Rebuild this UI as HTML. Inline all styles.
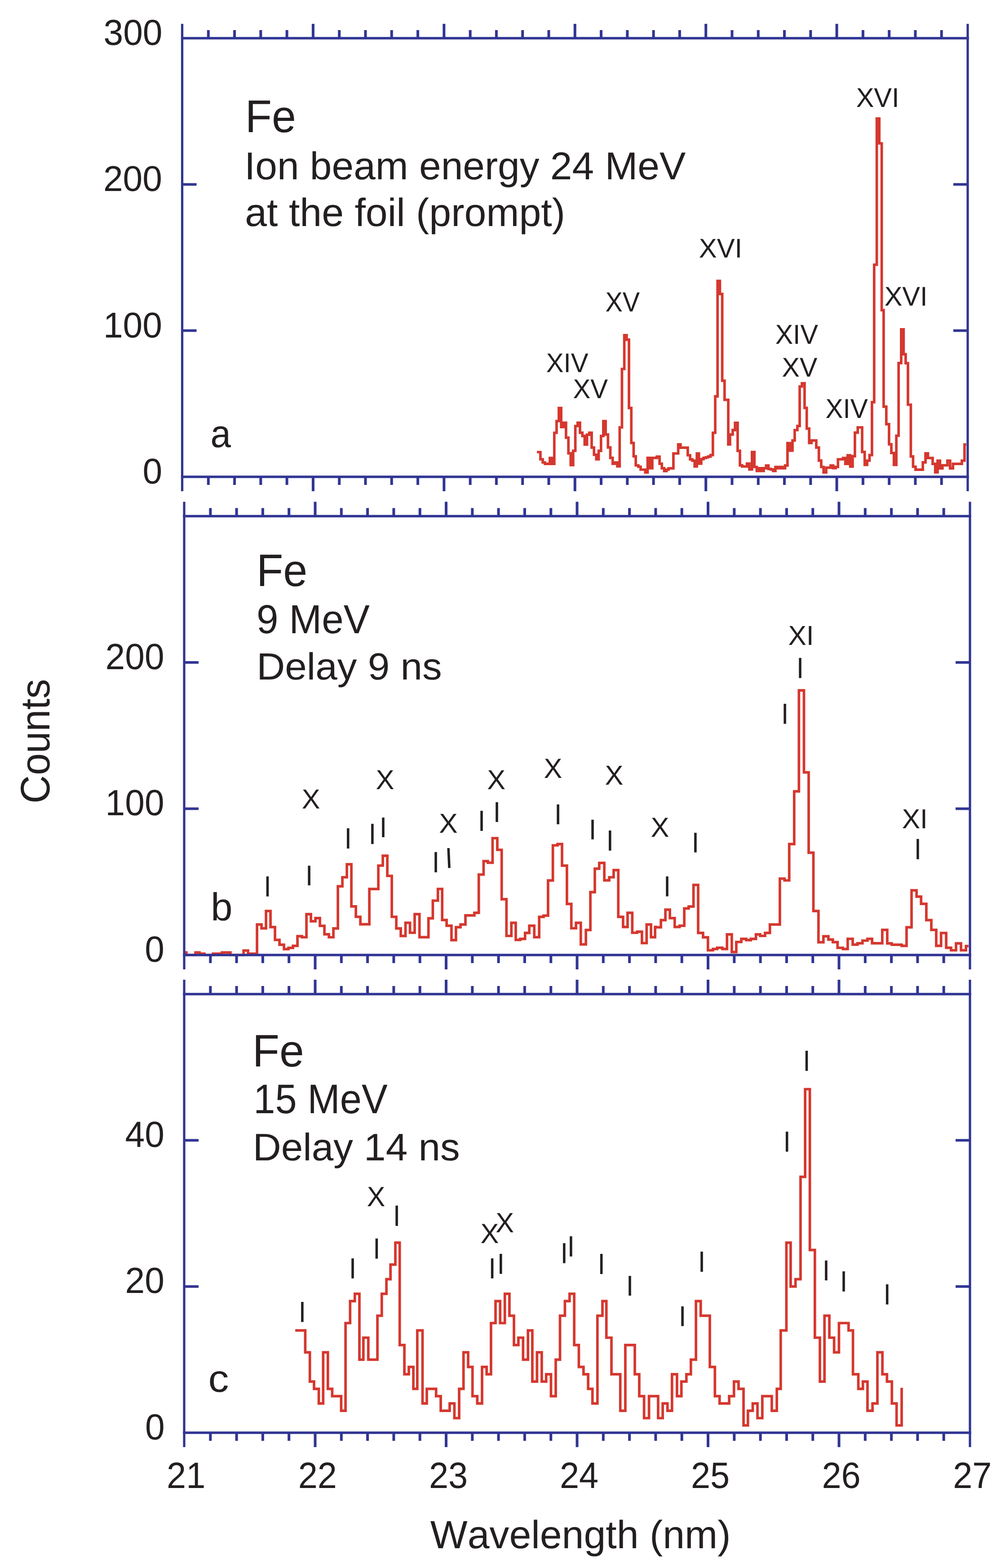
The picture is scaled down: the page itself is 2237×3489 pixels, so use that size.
<!DOCTYPE html>
<html><head><meta charset="utf-8"><title>Fe spectra</title>
<style>html,body{margin:0;padding:0;background:#fff;}svg{display:block;}
text{font-family:"Liberation Sans",Arial,Helvetica,sans-serif;fill:#231f20;font-kerning:none;text-rendering:geometricPrecision;}</style></head>
<body><svg width="2237" height="3489" viewBox="0 0 2237 3489"><g stroke="#d5372e" stroke-width="5.7" fill="none" stroke-linejoin="miter" stroke-linecap="butt">
<path d="M1195.1 1006.0H1202.9V1022.0H1208.0V1029.0H1213.0V1032.1H1218.1V1032.1H1223.9V1019.0H1229.0V1032.1H1233.8V963.0H1238.9V937.0H1243.9V907.8H1249.1V950.1H1254.4V940.7H1259.9V973.9H1265.2V1008.7H1270.3V1035.0H1275.8V1003.1H1280.6V948.0H1285.8V940.7H1291.0V962.8H1296.3V970.1H1301.4V989.2H1306.6V967.1H1311.8V962.8H1317.0V995.9H1322.2V1011.9H1327.3V1021.9H1332.6V1003.1H1337.8V970.2H1342.9V937.2H1348.1V966.9H1353.3V995.7H1358.5V1018.8H1363.7V1031.9H1368.9V1029.1H1374.1V1037.7H1379.3V951.0H1384.4V821.0H1389.6V745.9H1394.8V755.9H1400.0V907.8H1405.2V985.7H1410.4V1015.4H1415.1V1035.5H1420.8V1038.5H1426.0V1045.0H1436.2V1051.2H1441.5V1018.9H1446.7V1041.9H1451.9V1018.9H1462.1V1016.1H1468.1V1031.9H1473.2V1041.9H1478.4V1048.1H1483.5V1045.0H1488.1V1042.1H1498.9V1009.0H1509.6V988.9H1514.8V996.2H1530.9V1013.0H1536.1V1022.1H1541.1V1025.1H1546.2V1037.9H1551.1V1009.0H1555.7V1031.6H1560.9V1021.7H1566.0V1018.8H1571.2V1017.5H1576.4V1015.8H1581.6V1012.6H1586.8V963.0H1592.0V881.8H1597.2V625.0H1602.4V654.2H1607.6V847.2H1612.8V889.6H1621.0V988.8H1624.9V966.8H1630.9V956.9H1636.1V940.8H1641.9V1003.1H1647.0V1035.4H1651.9V1038.0H1662.6V1031.7H1668.0V1044.7H1673.8V1005.8H1679.2V1039.0H1684.5V1047.8H1689.6V1041.8H1694.8V1047.8H1700.0V1041.8H1705.2V1035.9H1710.4V1043.4H1715.6V1044.7H1720.8V1047.8H1726.0V1039.0H1731.2V1041.8H1736.4V1039.0H1741.6V1041.8H1747.5V1035.9H1752.8V986.1H1758.5V1002.7H1764.0V980.1H1768.9V957.0H1774.9V947.9H1780.0V860.0H1785.0V852.9H1790.9V907.7H1795.7V953.6H1801.1V985.6H1806.3V980.1H1816.9V995.9H1822.7V1024.8H1827.9V1039.0H1833.1V1051.1H1839.0V1040.6H1848.9V1035.9H1854.6V1041.7H1860.1V1039.0H1865.2V1022.0H1876.4V1019.1H1881.6V1032.1H1886.8V1013.1H1892.5V1038.1H1897.9V1015.2H1902.9V962.7H1909.2V951.0H1919.0V1005.7H1924.7V1034.5H1930.1V1025.0H1935.5V1012.6H1940.9V894.8H1945.8V589.0H1951.6V263.8H1957.2V319.0H1962.6V690.1H1966.9V904.8H1972.8V943.8H1978.9V988.7H1984.0V1008.0H1989.7V1034.5H1995.1V969.5H2000.2V807.8H2005.9V732.8H2011.3V788.1H2015.9V808.1H2021.0V900.5H2027.4V1015.7H2032.4V1038.5H2037.9V1045.1H2054.1V1028.8H2060.0V1008.8H2065.5V1019.1H2076.0V1032.1H2081.7V1051.0H2087.0V1025.0H2092.3V1042.1H2097.8V1035.4H2108.9V1025.0H2114.8V1042.1H2121.2V1032.1H2141.0V1025.0H2146.9V989.0H2150.7"/>
<path d="M410.0 2119.3H415.0V2125.0H435.0V2119.3H444.0V2122.1H455.0V2125.0H474.0V2122.1H494.0V2119.3H513.0V2125.0H542.1V2115.0H552.1V2122.1H572.1V2057.1H582.1V2065.7H592.1V2027.1H602.1V2062.9H612.1V2091.4H622.1V2102.1H632.1V2111.9H642.1V2109.1H652.1V2104.6H662.1V2083.1H672.1V2085.5H682.1V2034.1H692.1V2049.8H702.1V2042.8H712.1V2060.1H722.1V2078.9H732.1V2085.5H742.1V2065.8H752.1V1972.2H762.1V1952.0H772.1V1923.2H782.1V2016.8H792.1V2040.0H802.1V2056.7H812.1V2056.7H822.1V1978.2H832.1V1978.2H842.1V1926.0H852.1V1904.2H862.1V1949.0H872.1V2040.0H882.1V2065.8H892.1V2082.7H902.6V2053.3H912.6V2075.5H923.0V2034.1H933.7V2085.3H953.7V2043.3H963.4V2004.0H974.7V1978.0H984.2V2047.1H994.1V2059.9H1004.9V2091.9H1014.9V2063.1H1025.0V2057.1H1036.0V2036.9H1055.9V2031.1H1065.7V1946.0H1076.4V1916.2H1085.9V1919.6H1096.4V1865.0H1106.9V1891.0H1116.7V2000.9H1127.3V2082.5H1138.2V2053.3H1148.0V2091.3H1158.0V2089.1H1168.7V2075.9H1178.1V2059.9H1189.2V2085.3H1200.1V2040.1H1209.9V2037.3H1219.9V1959.1H1230.6V1881.0H1241.0V1878.2H1251.0V1926.2H1261.9V2011.3H1271.7V2065.5H1282.1V2053.3H1292.8V2101.3H1304.1V2069.3H1314.1V1985.1H1324.0V1932.8H1333.8V1920.2H1345.1V1958.8H1356.1V1952.0H1365.9V1936.2H1376.2V2040.1H1386.9V2062.7H1396.9V2031.1H1407.3V2075.5H1418.2V2073.1H1428.9V2098.5H1439.3V2057.1H1449.1V2085.3H1458.1V2062.7H1459.8V2063.3H1471.1V2047.3H1481.1V2024.1H1491.1V2042.9H1501.8V2062.7H1512.5V2059.9H1523.1V2021.3H1532.9V2017.1H1543.6V1969.1H1554.0V2075.9H1564.9V2085.7H1575.8V2114.5H1586.9V2111.7H1596.3V2108.9H1607.8V2111.7H1618.2V2079.1H1628.9V2118.3H1638.9V2096.0H1650.0V2089.1H1661.0V2091.9H1671.3V2089.1H1682.6V2079.1H1692.0V2082.5H1702.9V2075.9H1713.7V2057.1H1735.9V1955.0H1746.2V1959.0H1756.7V1878.1H1767.8V1760.8H1778.3V1536.2H1789.5V1718.6H1800.0V1897.3H1810.5V2027.1H1821.8V2096.7H1832.8V2083.3H1843.9V2090.7H1853.8V2096.4H1864.3V2109.0H1876.1V2111.7H1886.9V2089.0H1898.0V2101.9H1908.7V2098.8H1919.8V2093.0H1930.9V2089.0H1941.1V2098.8H1963.8V2069.2H1974.9V2099.1H1984.9V2102.1H2007.1V2104.7H2017.9V2063.4H2029.0V1981.1H2040.1V1995.1H2050.2V2011.2H2061.9V2047.3H2073.0V2069.2H2083.9V2104.7H2094.7V2076.0H2106.1V2108.8H2116.9V2114.5H2128.0V2099.1H2139.1V2114.5H2150.2V2105.1H2155.7"/>
<path d="M657.2 2960.3H679.4V3009.1H689.7V3074.1H699.0V3090.4H709.6V3122.9H719.3V3009.1H729.8V3090.4H739.4V3106.7H759.4V3139.2H769.1V2944.0H779.3V2895.2H789.8V2878.9H800.0V3025.3H808.8V2976.5H819.8V3025.3H840.1V2927.7H849.8V2878.9H860.1V2846.4H869.2V2813.9H880.0V2765.1H889.7V2992.8H900.1V3057.9H910.0V3041.6H920.1V3090.4H928.8V2960.3H940.5V3122.9H950.0V3090.4H970.7V3106.7H981.0V3139.2H1000.9V3122.9H1011.4V3155.5H1022.0V3090.4H1031.7V3009.1H1042.0V3041.6H1051.7V3106.7H1062.3V3122.9H1073.0V3041.6H1083.2V3057.9H1092.9V2944.0H1103.0V2895.2H1113.2V2944.0H1123.7V2878.9H1133.9V2927.7H1144.0V2992.8H1153.9V2976.5H1164.3V3025.3H1175.2V2960.3H1184.9V3074.1H1195.3V3009.1H1205.9V3074.1H1215.7V3057.9H1226.4V3106.7H1237.0V3025.3H1246.5V2927.7H1257.4V2895.2H1267.8V2878.9H1278.1V2992.8H1288.4V3041.6H1298.8V3057.9H1309.1V3090.4H1318.7V3122.9H1329.8V2927.7H1341.0V2895.2H1349.7V2976.5H1361.0V3057.9H1380.7V3139.2H1391.9V2992.8H1413.0V3057.9H1422.9V3106.7H1433.6V3155.5H1444.6V3106.7H1464.9V3155.5H1475.1V3122.9H1485.7V3139.2H1495.8V3057.9H1506.9V3106.7H1516.7V3074.1H1527.8V3057.9H1537.8V3025.3H1549.1V2895.2H1559.7V2927.7H1580.0V3041.6H1591.3V3106.7H1601.7V3122.9H1623.0V3106.7H1633.7V3074.1H1643.9V3090.4H1655.0V3171.7H1664.8V3139.2H1675.5V3122.9H1686.0V3155.5H1696.8V3106.7H1717.9V3139.2H1729.1V3090.4H1737.8V2960.3H1750.4V2765.1H1759.9V2862.7H1770.7V2846.4H1781.9V2618.7H1792.1V2423.5H1802.6V2781.3H1813.8V2976.5H1825.0V3074.1H1835.2V2927.7H1846.0V2976.5H1856.6V3009.1H1867.4V2944.0H1888.8V2960.3H1898.6V3057.9H1910.5V3090.4H1920.7V3074.1H1930.9V3139.2H1942.1V3122.9H1953.0V3009.1H1964.1V3057.9H1974.3V3074.1H1985.2V3122.9H1995.7V3171.7H2007.0V3088.0H2007.0"/>
</g>
<g stroke="#313593" fill="none" stroke-linecap="butt">
<line x1="405.50" y1="53.00" x2="405.50" y2="1093.00" stroke-width="5.2"/>
<line x1="2154.00" y1="53.00" x2="2154.00" y2="1093.00" stroke-width="5.2"/>
<line x1="402.90" y1="85.00" x2="2156.60" y2="85.00" stroke-width="5.7"/>
<line x1="402.90" y1="1061.00" x2="2156.60" y2="1061.00" stroke-width="5.7"/>
<line x1="463.78" y1="85.00" x2="463.78" y2="67.00" stroke-width="6.0"/>
<line x1="463.78" y1="1061.00" x2="463.78" y2="1079.00" stroke-width="6.0"/>
<line x1="522.07" y1="85.00" x2="522.07" y2="67.00" stroke-width="6.0"/>
<line x1="522.07" y1="1061.00" x2="522.07" y2="1079.00" stroke-width="6.0"/>
<line x1="580.35" y1="85.00" x2="580.35" y2="67.00" stroke-width="6.0"/>
<line x1="580.35" y1="1061.00" x2="580.35" y2="1079.00" stroke-width="6.0"/>
<line x1="638.63" y1="85.00" x2="638.63" y2="67.00" stroke-width="6.0"/>
<line x1="638.63" y1="1061.00" x2="638.63" y2="1079.00" stroke-width="6.0"/>
<line x1="696.92" y1="85.00" x2="696.92" y2="53.00" stroke-width="6.0"/>
<line x1="696.92" y1="1061.00" x2="696.92" y2="1093.00" stroke-width="6.0"/>
<line x1="755.20" y1="85.00" x2="755.20" y2="67.00" stroke-width="6.0"/>
<line x1="755.20" y1="1061.00" x2="755.20" y2="1079.00" stroke-width="6.0"/>
<line x1="813.48" y1="85.00" x2="813.48" y2="67.00" stroke-width="6.0"/>
<line x1="813.48" y1="1061.00" x2="813.48" y2="1079.00" stroke-width="6.0"/>
<line x1="871.77" y1="85.00" x2="871.77" y2="67.00" stroke-width="6.0"/>
<line x1="871.77" y1="1061.00" x2="871.77" y2="1079.00" stroke-width="6.0"/>
<line x1="930.05" y1="85.00" x2="930.05" y2="67.00" stroke-width="6.0"/>
<line x1="930.05" y1="1061.00" x2="930.05" y2="1079.00" stroke-width="6.0"/>
<line x1="988.33" y1="85.00" x2="988.33" y2="53.00" stroke-width="6.0"/>
<line x1="988.33" y1="1061.00" x2="988.33" y2="1093.00" stroke-width="6.0"/>
<line x1="1046.62" y1="85.00" x2="1046.62" y2="67.00" stroke-width="6.0"/>
<line x1="1046.62" y1="1061.00" x2="1046.62" y2="1079.00" stroke-width="6.0"/>
<line x1="1104.90" y1="85.00" x2="1104.90" y2="67.00" stroke-width="6.0"/>
<line x1="1104.90" y1="1061.00" x2="1104.90" y2="1079.00" stroke-width="6.0"/>
<line x1="1163.18" y1="85.00" x2="1163.18" y2="67.00" stroke-width="6.0"/>
<line x1="1163.18" y1="1061.00" x2="1163.18" y2="1079.00" stroke-width="6.0"/>
<line x1="1221.47" y1="85.00" x2="1221.47" y2="67.00" stroke-width="6.0"/>
<line x1="1221.47" y1="1061.00" x2="1221.47" y2="1079.00" stroke-width="6.0"/>
<line x1="1279.75" y1="85.00" x2="1279.75" y2="53.00" stroke-width="6.0"/>
<line x1="1279.75" y1="1061.00" x2="1279.75" y2="1093.00" stroke-width="6.0"/>
<line x1="1338.03" y1="85.00" x2="1338.03" y2="67.00" stroke-width="6.0"/>
<line x1="1338.03" y1="1061.00" x2="1338.03" y2="1079.00" stroke-width="6.0"/>
<line x1="1396.32" y1="85.00" x2="1396.32" y2="67.00" stroke-width="6.0"/>
<line x1="1396.32" y1="1061.00" x2="1396.32" y2="1079.00" stroke-width="6.0"/>
<line x1="1454.60" y1="85.00" x2="1454.60" y2="67.00" stroke-width="6.0"/>
<line x1="1454.60" y1="1061.00" x2="1454.60" y2="1079.00" stroke-width="6.0"/>
<line x1="1512.88" y1="85.00" x2="1512.88" y2="67.00" stroke-width="6.0"/>
<line x1="1512.88" y1="1061.00" x2="1512.88" y2="1079.00" stroke-width="6.0"/>
<line x1="1571.17" y1="85.00" x2="1571.17" y2="53.00" stroke-width="6.0"/>
<line x1="1571.17" y1="1061.00" x2="1571.17" y2="1093.00" stroke-width="6.0"/>
<line x1="1629.45" y1="85.00" x2="1629.45" y2="67.00" stroke-width="6.0"/>
<line x1="1629.45" y1="1061.00" x2="1629.45" y2="1079.00" stroke-width="6.0"/>
<line x1="1687.73" y1="85.00" x2="1687.73" y2="67.00" stroke-width="6.0"/>
<line x1="1687.73" y1="1061.00" x2="1687.73" y2="1079.00" stroke-width="6.0"/>
<line x1="1746.02" y1="85.00" x2="1746.02" y2="67.00" stroke-width="6.0"/>
<line x1="1746.02" y1="1061.00" x2="1746.02" y2="1079.00" stroke-width="6.0"/>
<line x1="1804.30" y1="85.00" x2="1804.30" y2="67.00" stroke-width="6.0"/>
<line x1="1804.30" y1="1061.00" x2="1804.30" y2="1079.00" stroke-width="6.0"/>
<line x1="1862.58" y1="85.00" x2="1862.58" y2="53.00" stroke-width="6.0"/>
<line x1="1862.58" y1="1061.00" x2="1862.58" y2="1093.00" stroke-width="6.0"/>
<line x1="1920.87" y1="85.00" x2="1920.87" y2="67.00" stroke-width="6.0"/>
<line x1="1920.87" y1="1061.00" x2="1920.87" y2="1079.00" stroke-width="6.0"/>
<line x1="1979.15" y1="85.00" x2="1979.15" y2="67.00" stroke-width="6.0"/>
<line x1="1979.15" y1="1061.00" x2="1979.15" y2="1079.00" stroke-width="6.0"/>
<line x1="2037.43" y1="85.00" x2="2037.43" y2="67.00" stroke-width="6.0"/>
<line x1="2037.43" y1="1061.00" x2="2037.43" y2="1079.00" stroke-width="6.0"/>
<line x1="2095.72" y1="85.00" x2="2095.72" y2="67.00" stroke-width="6.0"/>
<line x1="2095.72" y1="1061.00" x2="2095.72" y2="1079.00" stroke-width="6.0"/>
<line x1="405.50" y1="735.67" x2="437.50" y2="735.67" stroke-width="5.8"/>
<line x1="2154.00" y1="735.67" x2="2122.00" y2="735.67" stroke-width="5.8"/>
<line x1="405.50" y1="410.33" x2="437.50" y2="410.33" stroke-width="5.8"/>
<line x1="2154.00" y1="410.33" x2="2122.00" y2="410.33" stroke-width="5.8"/>
<line x1="410.00" y1="1116.50" x2="410.00" y2="2157.00" stroke-width="5.2"/>
<line x1="2159.00" y1="1116.50" x2="2159.00" y2="2157.00" stroke-width="5.2"/>
<line x1="407.40" y1="1148.50" x2="2161.60" y2="1148.50" stroke-width="5.7"/>
<line x1="407.40" y1="2125.00" x2="2161.60" y2="2125.00" stroke-width="5.7"/>
<line x1="468.30" y1="1148.50" x2="468.30" y2="1130.50" stroke-width="6.0"/>
<line x1="468.30" y1="2125.00" x2="468.30" y2="2143.00" stroke-width="6.0"/>
<line x1="526.60" y1="1148.50" x2="526.60" y2="1130.50" stroke-width="6.0"/>
<line x1="526.60" y1="2125.00" x2="526.60" y2="2143.00" stroke-width="6.0"/>
<line x1="584.90" y1="1148.50" x2="584.90" y2="1130.50" stroke-width="6.0"/>
<line x1="584.90" y1="2125.00" x2="584.90" y2="2143.00" stroke-width="6.0"/>
<line x1="643.20" y1="1148.50" x2="643.20" y2="1130.50" stroke-width="6.0"/>
<line x1="643.20" y1="2125.00" x2="643.20" y2="2143.00" stroke-width="6.0"/>
<line x1="701.50" y1="1148.50" x2="701.50" y2="1116.50" stroke-width="6.0"/>
<line x1="701.50" y1="2125.00" x2="701.50" y2="2157.00" stroke-width="6.0"/>
<line x1="759.80" y1="1148.50" x2="759.80" y2="1130.50" stroke-width="6.0"/>
<line x1="759.80" y1="2125.00" x2="759.80" y2="2143.00" stroke-width="6.0"/>
<line x1="818.10" y1="1148.50" x2="818.10" y2="1130.50" stroke-width="6.0"/>
<line x1="818.10" y1="2125.00" x2="818.10" y2="2143.00" stroke-width="6.0"/>
<line x1="876.40" y1="1148.50" x2="876.40" y2="1130.50" stroke-width="6.0"/>
<line x1="876.40" y1="2125.00" x2="876.40" y2="2143.00" stroke-width="6.0"/>
<line x1="934.70" y1="1148.50" x2="934.70" y2="1130.50" stroke-width="6.0"/>
<line x1="934.70" y1="2125.00" x2="934.70" y2="2143.00" stroke-width="6.0"/>
<line x1="993.00" y1="1148.50" x2="993.00" y2="1116.50" stroke-width="6.0"/>
<line x1="993.00" y1="2125.00" x2="993.00" y2="2157.00" stroke-width="6.0"/>
<line x1="1051.30" y1="1148.50" x2="1051.30" y2="1130.50" stroke-width="6.0"/>
<line x1="1051.30" y1="2125.00" x2="1051.30" y2="2143.00" stroke-width="6.0"/>
<line x1="1109.60" y1="1148.50" x2="1109.60" y2="1130.50" stroke-width="6.0"/>
<line x1="1109.60" y1="2125.00" x2="1109.60" y2="2143.00" stroke-width="6.0"/>
<line x1="1167.90" y1="1148.50" x2="1167.90" y2="1130.50" stroke-width="6.0"/>
<line x1="1167.90" y1="2125.00" x2="1167.90" y2="2143.00" stroke-width="6.0"/>
<line x1="1226.20" y1="1148.50" x2="1226.20" y2="1130.50" stroke-width="6.0"/>
<line x1="1226.20" y1="2125.00" x2="1226.20" y2="2143.00" stroke-width="6.0"/>
<line x1="1284.50" y1="1148.50" x2="1284.50" y2="1116.50" stroke-width="6.0"/>
<line x1="1284.50" y1="2125.00" x2="1284.50" y2="2157.00" stroke-width="6.0"/>
<line x1="1342.80" y1="1148.50" x2="1342.80" y2="1130.50" stroke-width="6.0"/>
<line x1="1342.80" y1="2125.00" x2="1342.80" y2="2143.00" stroke-width="6.0"/>
<line x1="1401.10" y1="1148.50" x2="1401.10" y2="1130.50" stroke-width="6.0"/>
<line x1="1401.10" y1="2125.00" x2="1401.10" y2="2143.00" stroke-width="6.0"/>
<line x1="1459.40" y1="1148.50" x2="1459.40" y2="1130.50" stroke-width="6.0"/>
<line x1="1459.40" y1="2125.00" x2="1459.40" y2="2143.00" stroke-width="6.0"/>
<line x1="1517.70" y1="1148.50" x2="1517.70" y2="1130.50" stroke-width="6.0"/>
<line x1="1517.70" y1="2125.00" x2="1517.70" y2="2143.00" stroke-width="6.0"/>
<line x1="1576.00" y1="1148.50" x2="1576.00" y2="1116.50" stroke-width="6.0"/>
<line x1="1576.00" y1="2125.00" x2="1576.00" y2="2157.00" stroke-width="6.0"/>
<line x1="1634.30" y1="1148.50" x2="1634.30" y2="1130.50" stroke-width="6.0"/>
<line x1="1634.30" y1="2125.00" x2="1634.30" y2="2143.00" stroke-width="6.0"/>
<line x1="1692.60" y1="1148.50" x2="1692.60" y2="1130.50" stroke-width="6.0"/>
<line x1="1692.60" y1="2125.00" x2="1692.60" y2="2143.00" stroke-width="6.0"/>
<line x1="1750.90" y1="1148.50" x2="1750.90" y2="1130.50" stroke-width="6.0"/>
<line x1="1750.90" y1="2125.00" x2="1750.90" y2="2143.00" stroke-width="6.0"/>
<line x1="1809.20" y1="1148.50" x2="1809.20" y2="1130.50" stroke-width="6.0"/>
<line x1="1809.20" y1="2125.00" x2="1809.20" y2="2143.00" stroke-width="6.0"/>
<line x1="1867.50" y1="1148.50" x2="1867.50" y2="1116.50" stroke-width="6.0"/>
<line x1="1867.50" y1="2125.00" x2="1867.50" y2="2157.00" stroke-width="6.0"/>
<line x1="1925.80" y1="1148.50" x2="1925.80" y2="1130.50" stroke-width="6.0"/>
<line x1="1925.80" y1="2125.00" x2="1925.80" y2="2143.00" stroke-width="6.0"/>
<line x1="1984.10" y1="1148.50" x2="1984.10" y2="1130.50" stroke-width="6.0"/>
<line x1="1984.10" y1="2125.00" x2="1984.10" y2="2143.00" stroke-width="6.0"/>
<line x1="2042.40" y1="1148.50" x2="2042.40" y2="1130.50" stroke-width="6.0"/>
<line x1="2042.40" y1="2125.00" x2="2042.40" y2="2143.00" stroke-width="6.0"/>
<line x1="2100.70" y1="1148.50" x2="2100.70" y2="1130.50" stroke-width="6.0"/>
<line x1="2100.70" y1="2125.00" x2="2100.70" y2="2143.00" stroke-width="6.0"/>
<line x1="410.00" y1="1799.50" x2="442.00" y2="1799.50" stroke-width="5.8"/>
<line x1="2159.00" y1="1799.50" x2="2127.00" y2="1799.50" stroke-width="5.8"/>
<line x1="410.00" y1="1474.00" x2="442.00" y2="1474.00" stroke-width="5.8"/>
<line x1="2159.00" y1="1474.00" x2="2127.00" y2="1474.00" stroke-width="5.8"/>
<line x1="410.00" y1="2180.00" x2="410.00" y2="3220.00" stroke-width="5.2"/>
<line x1="2159.00" y1="2180.00" x2="2159.00" y2="3220.00" stroke-width="5.2"/>
<line x1="407.40" y1="2212.00" x2="2161.60" y2="2212.00" stroke-width="5.7"/>
<line x1="407.40" y1="3188.00" x2="2161.60" y2="3188.00" stroke-width="5.7"/>
<line x1="468.30" y1="2212.00" x2="468.30" y2="2194.00" stroke-width="6.0"/>
<line x1="468.30" y1="3188.00" x2="468.30" y2="3206.00" stroke-width="6.0"/>
<line x1="526.60" y1="2212.00" x2="526.60" y2="2194.00" stroke-width="6.0"/>
<line x1="526.60" y1="3188.00" x2="526.60" y2="3206.00" stroke-width="6.0"/>
<line x1="584.90" y1="2212.00" x2="584.90" y2="2194.00" stroke-width="6.0"/>
<line x1="584.90" y1="3188.00" x2="584.90" y2="3206.00" stroke-width="6.0"/>
<line x1="643.20" y1="2212.00" x2="643.20" y2="2194.00" stroke-width="6.0"/>
<line x1="643.20" y1="3188.00" x2="643.20" y2="3206.00" stroke-width="6.0"/>
<line x1="701.50" y1="2212.00" x2="701.50" y2="2180.00" stroke-width="6.0"/>
<line x1="701.50" y1="3188.00" x2="701.50" y2="3220.00" stroke-width="6.0"/>
<line x1="759.80" y1="2212.00" x2="759.80" y2="2194.00" stroke-width="6.0"/>
<line x1="759.80" y1="3188.00" x2="759.80" y2="3206.00" stroke-width="6.0"/>
<line x1="818.10" y1="2212.00" x2="818.10" y2="2194.00" stroke-width="6.0"/>
<line x1="818.10" y1="3188.00" x2="818.10" y2="3206.00" stroke-width="6.0"/>
<line x1="876.40" y1="2212.00" x2="876.40" y2="2194.00" stroke-width="6.0"/>
<line x1="876.40" y1="3188.00" x2="876.40" y2="3206.00" stroke-width="6.0"/>
<line x1="934.70" y1="2212.00" x2="934.70" y2="2194.00" stroke-width="6.0"/>
<line x1="934.70" y1="3188.00" x2="934.70" y2="3206.00" stroke-width="6.0"/>
<line x1="993.00" y1="2212.00" x2="993.00" y2="2180.00" stroke-width="6.0"/>
<line x1="993.00" y1="3188.00" x2="993.00" y2="3220.00" stroke-width="6.0"/>
<line x1="1051.30" y1="2212.00" x2="1051.30" y2="2194.00" stroke-width="6.0"/>
<line x1="1051.30" y1="3188.00" x2="1051.30" y2="3206.00" stroke-width="6.0"/>
<line x1="1109.60" y1="2212.00" x2="1109.60" y2="2194.00" stroke-width="6.0"/>
<line x1="1109.60" y1="3188.00" x2="1109.60" y2="3206.00" stroke-width="6.0"/>
<line x1="1167.90" y1="2212.00" x2="1167.90" y2="2194.00" stroke-width="6.0"/>
<line x1="1167.90" y1="3188.00" x2="1167.90" y2="3206.00" stroke-width="6.0"/>
<line x1="1226.20" y1="2212.00" x2="1226.20" y2="2194.00" stroke-width="6.0"/>
<line x1="1226.20" y1="3188.00" x2="1226.20" y2="3206.00" stroke-width="6.0"/>
<line x1="1284.50" y1="2212.00" x2="1284.50" y2="2180.00" stroke-width="6.0"/>
<line x1="1284.50" y1="3188.00" x2="1284.50" y2="3220.00" stroke-width="6.0"/>
<line x1="1342.80" y1="2212.00" x2="1342.80" y2="2194.00" stroke-width="6.0"/>
<line x1="1342.80" y1="3188.00" x2="1342.80" y2="3206.00" stroke-width="6.0"/>
<line x1="1401.10" y1="2212.00" x2="1401.10" y2="2194.00" stroke-width="6.0"/>
<line x1="1401.10" y1="3188.00" x2="1401.10" y2="3206.00" stroke-width="6.0"/>
<line x1="1459.40" y1="2212.00" x2="1459.40" y2="2194.00" stroke-width="6.0"/>
<line x1="1459.40" y1="3188.00" x2="1459.40" y2="3206.00" stroke-width="6.0"/>
<line x1="1517.70" y1="2212.00" x2="1517.70" y2="2194.00" stroke-width="6.0"/>
<line x1="1517.70" y1="3188.00" x2="1517.70" y2="3206.00" stroke-width="6.0"/>
<line x1="1576.00" y1="2212.00" x2="1576.00" y2="2180.00" stroke-width="6.0"/>
<line x1="1576.00" y1="3188.00" x2="1576.00" y2="3220.00" stroke-width="6.0"/>
<line x1="1634.30" y1="2212.00" x2="1634.30" y2="2194.00" stroke-width="6.0"/>
<line x1="1634.30" y1="3188.00" x2="1634.30" y2="3206.00" stroke-width="6.0"/>
<line x1="1692.60" y1="2212.00" x2="1692.60" y2="2194.00" stroke-width="6.0"/>
<line x1="1692.60" y1="3188.00" x2="1692.60" y2="3206.00" stroke-width="6.0"/>
<line x1="1750.90" y1="2212.00" x2="1750.90" y2="2194.00" stroke-width="6.0"/>
<line x1="1750.90" y1="3188.00" x2="1750.90" y2="3206.00" stroke-width="6.0"/>
<line x1="1809.20" y1="2212.00" x2="1809.20" y2="2194.00" stroke-width="6.0"/>
<line x1="1809.20" y1="3188.00" x2="1809.20" y2="3206.00" stroke-width="6.0"/>
<line x1="1867.50" y1="2212.00" x2="1867.50" y2="2180.00" stroke-width="6.0"/>
<line x1="1867.50" y1="3188.00" x2="1867.50" y2="3220.00" stroke-width="6.0"/>
<line x1="1925.80" y1="2212.00" x2="1925.80" y2="2194.00" stroke-width="6.0"/>
<line x1="1925.80" y1="3188.00" x2="1925.80" y2="3206.00" stroke-width="6.0"/>
<line x1="1984.10" y1="2212.00" x2="1984.10" y2="2194.00" stroke-width="6.0"/>
<line x1="1984.10" y1="3188.00" x2="1984.10" y2="3206.00" stroke-width="6.0"/>
<line x1="2042.40" y1="2212.00" x2="2042.40" y2="2194.00" stroke-width="6.0"/>
<line x1="2042.40" y1="3188.00" x2="2042.40" y2="3206.00" stroke-width="6.0"/>
<line x1="2100.70" y1="2212.00" x2="2100.70" y2="2194.00" stroke-width="6.0"/>
<line x1="2100.70" y1="3188.00" x2="2100.70" y2="3206.00" stroke-width="6.0"/>
<line x1="410.00" y1="2862.67" x2="442.00" y2="2862.67" stroke-width="5.8"/>
<line x1="2159.00" y1="2862.67" x2="2127.00" y2="2862.67" stroke-width="5.8"/>
<line x1="410.00" y1="2537.33" x2="442.00" y2="2537.33" stroke-width="5.8"/>
<line x1="2159.00" y1="2537.33" x2="2127.00" y2="2537.33" stroke-width="5.8"/>
</g><g><text transform="translate(230.49,100.20) scale(1,1.0253)" font-size="78.50">300</text>
<text transform="translate(229.89,424.80) scale(1,1.0198)" font-size="78.50">200</text>
<text transform="translate(229.89,750.50) scale(1,1.0162)" font-size="78.50">100</text>
<text transform="translate(317.41,1075.80) scale(1,1.0180)" font-size="78.50">0</text>
<text transform="translate(234.59,1488.60) scale(1,1.0344)" font-size="78.50">200</text>
<text transform="translate(234.59,1813.70) scale(1,1.0344)" font-size="78.50">100</text>
<text transform="translate(322.21,2140.00) scale(1,1.0344)" font-size="78.50">0</text>
<text transform="translate(278.55,2552.20) scale(1,1.0308)" font-size="78.50">40</text>
<text transform="translate(278.55,2877.00) scale(1,1.0308)" font-size="78.50">20</text>
<text transform="translate(322.91,3203.20) scale(1,1.0308)" font-size="78.50">0</text>
<text transform="translate(371.10,3310.5) scale(1,1.0533)" font-size="77.5">21</text>
<text transform="translate(663.70,3310.5) scale(1,1.0533)" font-size="77.5">22</text>
<text transform="translate(954.95,3310.5) scale(1,1.0533)" font-size="77.5">23</text>
<text transform="translate(1245.88,3310.5) scale(1,1.0533)" font-size="77.5">24</text>
<text transform="translate(1537.88,3310.5) scale(1,1.0533)" font-size="77.5">25</text>
<text transform="translate(1829.45,3310.5) scale(1,1.0533)" font-size="77.5">26</text>
<text transform="translate(2121.20,3310.5) scale(1,1.0533)" font-size="77.5">27</text>
<text transform="translate(957.81,3444.50) scale(1,0.9979)" font-size="87.82">Wavelength (nm)</text>
<text transform="translate(110,1788.04) rotate(-90) scale(1,1.0477)" font-size="87.49">Counts</text>
<text transform="translate(545.85,294.20) scale(1,1.0522)" font-size="96.97">Fe</text>
<text transform="translate(543.93,398.60) scale(1,0.9874)" font-size="87.49">Ion beam energy 24 MeV</text>
<text transform="translate(545.27,502.50) scale(1,0.9978)" font-size="87.83">at the foil (prompt)</text>
<text transform="translate(468.53,994.50) scale(1,1.0592)" font-size="81.76">a</text>
<text transform="translate(1215.79,827.50) scale(1,1.0294)" font-size="58.17">XIV</text>
<text transform="translate(1275.59,886.00) scale(1,1.0400)" font-size="58.14">XV</text>
<text transform="translate(1347.51,692.50) scale(1,1.0690)" font-size="57.38">XV</text>
<text transform="translate(1555.86,572.60) scale(1,1.0017)" font-size="59.78">XVI</text>
<text transform="translate(1725.67,765.00) scale(1,1.0302)" font-size="59.12">XIV</text>
<text transform="translate(1740.58,837.60) scale(1,1.0202)" font-size="58.98">XV</text>
<text transform="translate(1837.48,930.00) scale(1,1.0377)" font-size="58.55">XIV</text>
<text transform="translate(1905.66,237.70) scale(1,1.0160)" font-size="59.52">XVI</text>
<text transform="translate(1968.66,679.50) scale(1,1.0086)" font-size="59.52">XVI</text>
<text transform="translate(571.04,1303.80) scale(1,1.0452)" font-size="97.07">Fe</text>
<text transform="translate(570.91,1409.00) scale(1,1.0349)" font-size="87.18">9 MeV</text>
<text transform="translate(571.14,1512.00) scale(1,0.9639)" font-size="87.33">Delay 9 ns</text>
<text transform="translate(469.31,2047.90) scale(1,1.0025)" font-size="86.72">b</text>
<text transform="translate(561.81,2373.20) scale(1,1.0289)" font-size="98.60">Fe</text>
<text transform="translate(564.20,2477.00) scale(1,1.0603)" font-size="86.64">15 MeV</text>
<text transform="translate(562.74,2582.00) scale(1,0.9803)" font-size="87.28">Delay 14 ns</text>
<text transform="translate(463.40,3097.30) scale(1,0.9328)" font-size="91.85">c</text>
<text transform="translate(671.73,1798.90) scale(1,0.9991)" font-size="61.10">X</text>
<text transform="translate(836.42,1755.80) scale(1,0.9913)" font-size="61.58">X</text>
<text transform="translate(977.21,1852.90) scale(1,0.9836)" font-size="62.07">X</text>
<text transform="translate(1084.32,1756.20) scale(1,0.9965)" font-size="61.26">X</text>
<text transform="translate(1210.62,1731.20) scale(1,1.0060)" font-size="61.26">X</text>
<text transform="translate(1346.62,1746.00) scale(1,0.9941)" font-size="61.26">X</text>
<text transform="translate(1448.62,1862.10) scale(1,1.0010)" font-size="61.42">X</text>
<text transform="translate(1754.54,1435.00) scale(1,1.0094)" font-size="60.48">XI</text>
<text transform="translate(2007.64,1843.00) scale(1,1.0070)" font-size="60.48">XI</text>
<text transform="translate(816.83,2683.60) scale(1,1.0235)" font-size="60.78">X</text>
<text transform="translate(1069.52,2766.20) scale(1,1.0107)" font-size="61.26">X</text>
<text transform="translate(1103.32,2741.60) scale(1,1.0178)" font-size="61.26">X</text>
<g stroke="#231f20" stroke-width="5.5" stroke-linecap="butt">
<line x1="595.5" y1="1950.1" x2="595.5" y2="1994.7"/>
<line x1="688.1" y1="1926.3" x2="688.1" y2="1970.0"/>
<line x1="774.8" y1="1843.0" x2="774.8" y2="1888.1"/>
<line x1="828.9" y1="1833.1" x2="828.9" y2="1878.1"/>
<line x1="853.0" y1="1819.2" x2="853.0" y2="1862.9"/>
<line x1="970.0" y1="1895.9" x2="970.0" y2="1941.0"/>
<line x1="1072.0" y1="1804.1" x2="1072.0" y2="1848.9"/>
<line x1="1106.0" y1="1784.9" x2="1106.0" y2="1829.0"/>
<line x1="1242.1" y1="1790.0" x2="1242.1" y2="1834.1"/>
<line x1="1319.0" y1="1823.9" x2="1319.0" y2="1867.7"/>
<line x1="1357.8" y1="1848.0" x2="1357.8" y2="1892.7"/>
<line x1="1485.0" y1="1950.1" x2="1485.0" y2="1994.5"/>
<line x1="1547.9" y1="1853.0" x2="1547.9" y2="1896.7"/>
<line x1="1781.0" y1="1463.9" x2="1781.0" y2="1508.8"/>
<line x1="1747.1" y1="1566.0" x2="1747.1" y2="1610.6"/>
<line x1="2042.9" y1="1866.8" x2="2042.9" y2="1911.9"/>
<line x1="672.9" y1="2896.9" x2="672.9" y2="2941.6"/>
<line x1="785.0" y1="2800.1" x2="785.0" y2="2844.6"/>
<line x1="838.4" y1="2755.8" x2="838.4" y2="2800.7"/>
<line x1="883.1" y1="2682.6" x2="883.1" y2="2727.8"/>
<line x1="1095.6" y1="2800.1" x2="1095.6" y2="2844.6"/>
<line x1="1114.8" y1="2790.0" x2="1114.8" y2="2834.5"/>
<line x1="1255.8" y1="2766.2" x2="1255.8" y2="2810.7"/>
<line x1="1270.9" y1="2750.9" x2="1270.9" y2="2795.8"/>
<line x1="1338.7" y1="2790.0" x2="1338.7" y2="2834.9"/>
<line x1="1402.0" y1="2839.0" x2="1402.0" y2="2883.0"/>
<line x1="1519.1" y1="2906.8" x2="1519.1" y2="2950.7"/>
<line x1="1562.0" y1="2785.0" x2="1562.0" y2="2829.9"/>
<line x1="1751.7" y1="2518.1" x2="1751.7" y2="2562.6"/>
<line x1="1795.5" y1="2338.0" x2="1795.5" y2="2382.8"/>
<line x1="1838.9" y1="2804.8" x2="1838.9" y2="2849.0"/>
<line x1="1878.0" y1="2828.9" x2="1878.0" y2="2873.7"/>
<line x1="1974.7" y1="2857.8" x2="1974.7" y2="2902.6"/>
<line x1="998.1" y1="1887.1" x2="1000.1" y2="1931.3"/>
</g></g></svg></body></html>
